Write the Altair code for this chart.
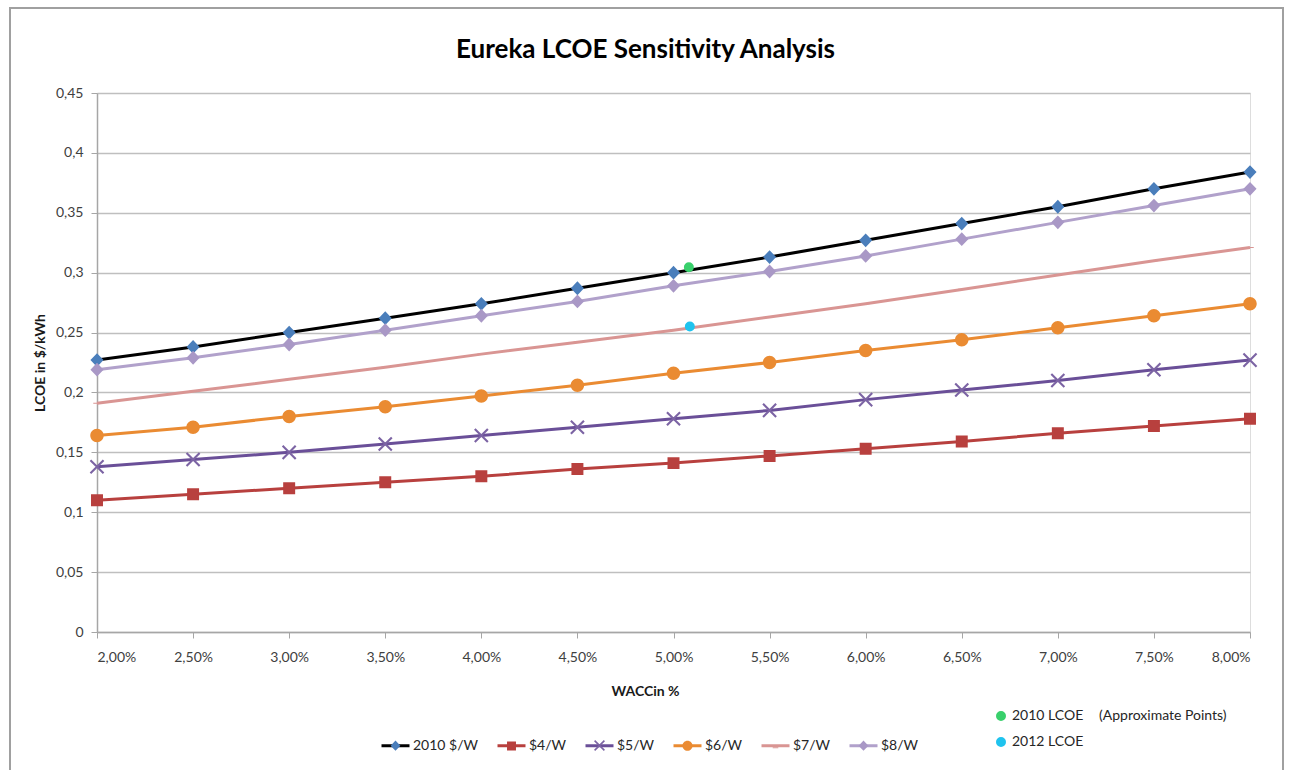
import altair as alt
import pandas as pd

# WACC steps (%) on the x axis
wacc = [2.0, 2.5, 3.0, 3.5, 4.0, 4.5, 5.0, 5.5, 6.0, 6.5, 7.0, 7.5, 8.0]

series_names = ["2010 $/W", "$4/W", "$5/W", "$6/W", "$7/W", "$8/W"]
lcoe_2010 = [0.227, 0.238, 0.250, 0.262, 0.274, 0.287, 0.300, 0.313, 0.327, 0.341, 0.355, 0.370, 0.384]
lcoe_4 = [0.110, 0.115, 0.120, 0.125, 0.130, 0.136, 0.141, 0.147, 0.153, 0.159, 0.166, 0.172, 0.178]
lcoe_5 = [0.138, 0.144, 0.150, 0.157, 0.164, 0.171, 0.178, 0.185, 0.194, 0.202, 0.210, 0.219, 0.227]
lcoe_6 = [0.164, 0.171, 0.180, 0.188, 0.197, 0.206, 0.216, 0.225, 0.235, 0.244, 0.254, 0.264, 0.274]
lcoe_7 = [0.191, 0.201, 0.211, 0.221, 0.232, 0.242, 0.252, 0.263, 0.274, 0.286, 0.298, 0.310, 0.321]
lcoe_8 = [0.219, 0.229, 0.240, 0.252, 0.264, 0.276, 0.289, 0.301, 0.314, 0.328, 0.342, 0.356, 0.370]

# approximate reference points
approx_names = ["2010 LCOE", "2012 LCOE"]
approx_wacc = [5.08, 5.085]
approx_lcoe = [0.3045, 0.255]

y_ticks = [0, 0.05, 0.10, 0.15, 0.20, 0.25, 0.30, 0.35, 0.40, 0.45]

line_colors = ["#000000", "#b8403e", "#6a4f98", "#ea8b32", "#d99593", "#b1a1cb"]
marker_colors = ["#4a7ebb", "#b8403e", "#7c64a4", "#ea8b32", "#d99593", "#a998c6"]
approx_colors = ["#39d06c", "#1fc3ee"]

# marker outlines (custom symbol paths in the -1..1 box); each starts with a
# zero-area span across the box so legend entries keep the full symbol width
span = "M-1,0H1"
diamond = span + "M0,-0.37L0.35,0L0,0.37L-0.35,0Z"
square = span + "M-0.32,-0.32H0.32V0.32H-0.32Z"
xmark = (span + "M-0.31,-0.39L0.39,0.31L0.31,0.39L-0.39,-0.31Z"
         "M0.31,-0.39L0.39,-0.31L-0.31,0.39L-0.39,0.31Z")
circle = span + "M0.36,0A0.36,0.36 0 1,1 -0.36,0A0.36,0.36 0 1,1 0.36,0Z"
dash = span + "M-0.2,-0.03H0.2V0.03H-0.2Z"
marker_shapes = [diamond, square, xmark, circle, dash, diamond]

FONT = "Lato"

rows = []
for name, vals in zip(series_names, [lcoe_2010, lcoe_4, lcoe_5, lcoe_6, lcoe_7, lcoe_8]):
    for w, v in zip(wacc, vals):
        rows.append({"series": name, "line_series": name, "wacc": w, "lcoe": v})
df = pd.DataFrame(rows)
approx_df = pd.DataFrame({"label": approx_names, "wacc": approx_wacc, "lcoe": approx_lcoe})

x_enc = alt.X(
    "wacc:Q",
    scale=alt.Scale(domain=[2, 8], nice=False, zero=False),
    axis=alt.Axis(
        values=wacc,
        labelExpr="replace(format(datum.value, '.2f'), '.', ',') + '%'",
        title="WACCin %",
        titleX=548,
        titleFontSize=14,
        titleFontWeight="bold",
        titleFont=FONT,
        titleColor="#1a1a1a",
        titlePadding=20,
        labelFont=FONT,
        labelFontSize=14,
        labelColor="#404040",
        labelPadding=12,
        tickSize=6,
        tickColor="#a6a6a6",
        domainColor="#a6a6a6",
        domainWidth=1.5,
        grid=False,
    ),
)
y_enc = alt.Y(
    "lcoe:Q",
    scale=alt.Scale(domain=[0, 0.45], nice=False),
    axis=alt.Axis(
        values=y_ticks,
        labelExpr="replace(format(datum.value, '.2~f'), '.', ',')",
        title="LCOE in $/kWh",
        titleFontSize=14,
        titleFontWeight="bold",
        titleFont=FONT,
        titleColor="#1a1a1a",
        titlePadding=8,
        labelFont=FONT,
        labelFontSize=14,
        labelColor="#404040",
        labelPadding=8,
        tickSize=6,
        tickColor="#a6a6a6",
        domainColor="#a6a6a6",
        domainWidth=1.5,
        grid=True,
        gridColor="#bfbfbf",
        gridWidth=1.5,
    ),
)

legend_common = dict(
    orient="none",
    legendX=283,
    legendY=637,
    direction="horizontal",
    title=None,
    symbolSize=784,
    symbolStrokeWidth=3,
    labelFont=FONT,
    labelFontSize=14,
    labelColor="#262626",
    columnPadding=12,
    labelOffset=2,
    padding=0,
)

# line legend (drawn underneath the marker legend at the same spot)
lines = alt.Chart(df).mark_line(strokeWidth=3).encode(
    x=x_enc,
    y=y_enc,
    color=alt.Color(
        "line_series:N",
        sort=series_names,
        scale=alt.Scale(range=line_colors),
        legend=alt.Legend(symbolType="stroke", **legend_common),
    ),
)

marker_legend = alt.Legend(symbolStrokeColor="transparent", labelOpacity=0, **legend_common)
points = alt.Chart(df).mark_point(filled=True, size=1400, opacity=1).encode(
    x="wacc:Q",
    y="lcoe:Q",
    fill=alt.Fill(
        "series:N",
        scale=alt.Scale(domain=series_names, range=marker_colors),
        legend=marker_legend,
    ),
    shape=alt.Shape(
        "series:N",
        scale=alt.Scale(domain=series_names, range=marker_shapes),
        legend=marker_legend,
    ),
)

approx = alt.Chart(approx_df).mark_point(filled=False, size=25, strokeWidth=5, opacity=1, shape="circle").encode(
    x="wacc:Q",
    y="lcoe:Q",
    stroke=alt.Stroke(
        "label:N",
        scale=alt.Scale(domain=approx_names, range=approx_colors),
        legend=alt.Legend(
            orient="none",
            legendX=897,
            legendY=616,
            direction="vertical",
            title="(Approximate Points)",
            titleOrient="right",
            titleAnchor="start",
            titleFont=FONT,
            titleFontSize=14,
            titleFontWeight="normal",
            titleColor="#262626",
            titlePadding=16,
            symbolType="circle",
            symbolSize=25,
            symbolStrokeWidth=5,
            labelFont=FONT,
            labelFontSize=14,
            labelColor="#262626",
            labelOffset=4,
            rowPadding=0,
            padding=0,
        ),
    ),
)

# outer frame around the chart
frame = alt.Chart(df).mark_rect(filled=False, stroke="#a0a0a0", strokeWidth=2).encode(
    x=alt.value(-87), x2=alt.value(1186), y=alt.value(-85), y2=alt.value(700)
)

chart = alt.layer(frame, lines, points, approx).properties(
    width=1153,
    height=539,
    autosize=alt.AutoSizeParams(type="none"),
    padding={"left": 97, "top": 93, "right": 39, "bottom": 138},
    title=alt.Title(
        "Eureka LCOE Sensitivity Analysis",
        font=FONT,
        fontSize=26,
        fontWeight="bold",
        color="#000000",
        anchor="middle",
        frame="group",
        dx=-28,
        offset=-56,
    ),
).configure_view(stroke=None).configure(background="white")

chart.save("out.html", embed_options={"renderer": "svg", "actions": False})
